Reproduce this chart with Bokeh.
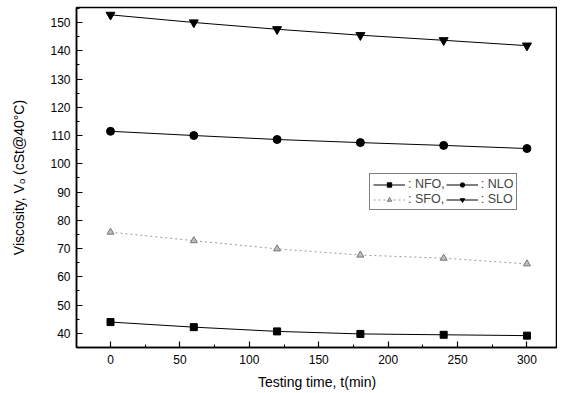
from bokeh.plotting import figure
from bokeh.models import Range1d, Legend, LegendItem, FixedTicker
from bokeh.embed import file_html
from bokeh.resources import INLINE

time_min = [0, 60, 120, 180, 240, 300]
nfo = [44.0, 42.2, 40.7, 39.8, 39.5, 39.2]
nlo = [111.5, 110.0, 108.6, 107.5, 106.5, 105.4]
sfo = [75.8, 72.8, 69.9, 67.7, 66.6, 64.6]
slo = [152.7, 150.0, 147.6, 145.5, 143.7, 141.8]

x_ticks = [0, 50, 100, 150, 200, 250, 300]
y_ticks = [40, 50, 60, 70, 80, 90, 100, 110, 120, 130, 140, 150]

FONT = "Liberation Sans"

p = figure(frame_width=481, frame_height=340, output_backend="svg", toolbar_location=None,
           x_range=Range1d(-24.5, 322), y_range=Range1d(35, 155.3),
           min_border_top=7, min_border_right=0, min_border_left=76, min_border_bottom=30)
p.grid.visible = False
p.outline_line_color = "black"
p.outline_line_width = 1.5
p.background_fill_color = "white"
p.border_fill_color = "white"

for ax in (p.xaxis[0], p.yaxis[0]):
    ax.axis_line_width = 1.5
    ax.major_tick_in = 6
    ax.major_tick_out = 0
    ax.minor_tick_in = 3
    ax.minor_tick_out = 0
    ax.major_tick_line_width = 1.2
    ax.major_label_text_font = FONT
    ax.major_label_text_font_size = "12px"
    ax.major_label_text_color = "black"
    ax.axis_label_text_font = FONT
    ax.axis_label_text_font_size = "14px"
    ax.axis_label_text_font_style = "normal"
    ax.axis_label_text_color = "black"

p.xaxis.ticker = FixedTicker(ticks=x_ticks, minor_ticks=list(range(-25, 326, 25)))
p.yaxis.ticker = FixedTicker(ticks=y_ticks, minor_ticks=list(range(35, 156, 5)))
p.xaxis.major_label_standoff = 7
p.yaxis.major_label_standoff = 6
p.xaxis.axis_label = "Testing time, t(min)"
p.yaxis.axis_label = "Viscosity, V\u2092 (cSt@40\u00b0C)"
p.xaxis.axis_label_standoff = 7
p.yaxis.axis_label_standoff = 20

l1 = p.line(time_min, nfo, line_color="black", line_width=1)
m1 = p.scatter(time_min, nfo, marker="square", size=7, color="black")
l2 = p.line(time_min, nlo, line_color="black", line_width=1)
m2 = p.scatter(time_min, nlo, marker="circle", size=8, color="black")
l3 = p.line(time_min, sfo, line_color="#9a9a9a", line_width=1, line_dash="2 3")
m3 = p.scatter(time_min, sfo, marker="triangle", size=7, fill_color="#bdbdbd", line_color="#777777")
l4 = p.line(time_min, slo, line_color="black", line_width=1)
m4 = p.scatter(time_min, slo, marker="inverted_triangle", size=9, color="black")

legend = Legend(items=[
    LegendItem(label=": NFO,", renderers=[l1, m1]),
    LegendItem(label=": NLO", renderers=[l2, m2]),
    LegendItem(label=": SFO,", renderers=[l3, m3]),
    LegendItem(label=": SLO", renderers=[l4, m4]),
], location=(293, 137), orientation="horizontal", ncols=2)
legend.glyph_width = 32
legend.glyph_height = 11
legend.label_height = 11
legend.label_standoff = 3
legend.spacing = 1
legend.padding = 3
legend.margin = 0
legend.label_text_font = FONT
legend.label_text_font_size = "12.5px"
legend.border_line_color = "black"
legend.border_line_width = 1.5
legend.background_fill_alpha = 1
p.add_layout(legend, "center")

open("out.html", "w").write(file_html(p, INLINE))
